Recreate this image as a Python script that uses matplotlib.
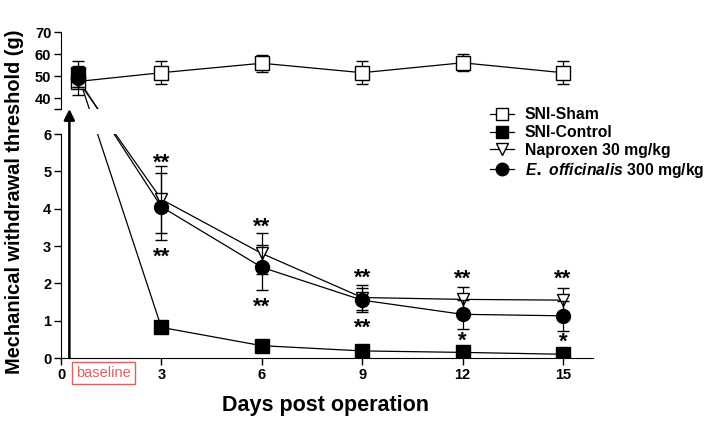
# -*- coding: utf-8 -*-
# Umbral de retirada mecanica, eje partido (40-70 arriba, 0-6 abajo)

import numpy as np
import matplotlib.pyplot as plt
from matplotlib.lines import Line2D

plt.rcParams['font.family'] = ['Liberation Sans', 'DejaVu Sans']
plt.rcParams['font.weight'] = 'bold'
plt.rcParams['mathtext.fontset'] = 'custom'
plt.rcParams['mathtext.it'] = 'Liberation Sans:italic:bold'

# %% Datos

dias = [3, 6, 9, 12, 15]
x_base = 0.5                      # posicion de la linea base

# linea base (eje superior)
sham_base, sham_base_err = 47.5, 3.0
ctrl_base, ctrl_base_err = 51.0, 6.0
napr_base, napr_base_err = 48.0, 6.6
eoff_base, eoff_base_err = 49.0, 4.0

# SNI-Sham (eje superior)
sham = [51.5, 55.8, 51.5, 56.0, 51.5]
sham_err = [5.3, 3.8, 5.3, 3.8, 5.3]

# eje inferior
ctrl = [0.82, 0.33, 0.19, 0.15, 0.10]
ctrl_err = [0.05, 0.04, 0.03, 0.03, 0.03]
napr = [4.25, 2.80, 1.62, 1.57, 1.55]
napr_err = [0.90, 0.55, 0.33, 0.33, 0.33]
eoff = [4.05, 2.43, 1.55, 1.17, 1.13]
eoff_err = [0.90, 0.60, 0.33, 0.39, 0.41]

# asteriscos
ast_dias = [3, 3, 6, 6, 9, 9, 12, 12, 15, 15]
ast_y = [5.22, 2.70, 3.50, 1.37, 2.15, 0.80, 2.10, 0.45, 2.10, 0.42]
ast_txt = ['**', '**', '**', '**', '**', '**', '**', '*', '**', '*']

labels = ['SNI-Sham', 'SNI-Control', 'Naproxen 30 mg/kg',
          r'$\it{E.}$ $\it{officinalis}$ 300 mg/kg']

# %% Figura

W, H = 714, 422
fig = plt.figure(figsize=(W/100, H/100), dpi=100)

x0px, x1px = 61, 593
ax_bot = fig.add_axes([x0px/W, 1-358/H, (x1px-x0px)/W, (358-134)/H])
ax_top = fig.add_axes([x0px/W, 1-109/H, (x1px-x0px)/W, (109-32)/H])

xmax = 15.9
ax_bot.set_xlim(0, xmax)
ax_top.set_xlim(0, xmax)
ax_bot.set_ylim(0, 6)
ax_top.set_ylim(35, 70)

for ax in (ax_bot, ax_top):
    ax.spines['top'].set_visible(False)
    ax.spines['right'].set_visible(False)
    ax.patch.set_alpha(0)
    ax.tick_params(width=1, length=5, labelsize=10.5, pad=2)
ax_top.spines['bottom'].set_visible(False)
ax_top.set_xticks([])
ax_top.set_yticks([35, 40, 50, 60, 70])
ax_top.set_yticklabels(['', '40', '50', '60', '70'])

ax_bot.set_yticks(range(0, 7))
ax_bot.set_xticks([0, 3, 6, 9, 12, 15])
ax_bot.tick_params(axis='x', pad=2)

lw = 0.9
cap = 4.5

# SNI-Sham en eje superior
ax_top.errorbar([x_base] + dias, [sham_base] + sham, yerr=[sham_base_err] + sham_err,
                fmt='s-', color='k', mfc='white', mec='k', ms=10, mew=1,
                lw=lw, elinewidth=lw, capsize=cap, capthick=lw, zorder=3)

estilos = [
    ('s', 'k', ctrl_base, ctrl_base_err, ctrl, ctrl_err, 10, 8),
    ('v', 'white', napr_base, napr_base_err, napr, napr_err, 9, 5),
    ('o', 'k', eoff_base, eoff_base_err, eoff, eoff_err, 10, 6),
]

for i, (mk, fc, yb, eb, yy, ee, m, zb) in enumerate(estilos):
    z = 4 + i
    # punto base (eje superior)
    ax_top.errorbar([x_base], [yb], yerr=[eb], fmt=mk, color='k', mfc=fc, mec='k',
                    ms=m, mew=1, elinewidth=lw, capsize=cap, capthick=lw, zorder=zb)
    # curva en eje inferior
    ax_bot.errorbar(dias, yy, yerr=ee, fmt=mk + '-', color='k', mfc=fc, mec='k',
                    ms=m, mew=1, lw=lw, elinewidth=lw, capsize=cap, capthick=lw,
                    zorder=z)
    # tramo base -> dia 3 que cruza el corte
    pb = ax_bot.transData.inverted().transform(
        ax_top.transData.transform((x_base, yb)))
    pt = ax_top.transData.inverted().transform(
        ax_bot.transData.transform((dias[0], yy[0])))
    ax_bot.plot([pb[0], dias[0]], [pb[1], yy[0]], color='k', lw=lw, zorder=2)
    ax_top.plot([x_base, pt[0]], [yb, pt[1]], color='k', lw=lw, zorder=2)

# asteriscos
for d, y, t in zip(ast_dias, ast_y, ast_txt):
    ax_bot.text(d, y, t, ha='center', va='center', fontsize=16)

# flecha de linea base
ax_bot.annotate('', xy=(0.25, 1-109/H), xycoords=('data', 'figure fraction'),
                xytext=(0.25, 0), textcoords='data',
                arrowprops=dict(arrowstyle='-|>', lw=1.8, color='k',
                                mutation_scale=16, shrinkA=0, shrinkB=0))

# caja 'baseline'
ax_bot.text(1.27, -0.4, 'baseline', ha='center', va='center', color='#e06060',
            fontsize=10.5, fontweight='normal', clip_on=False,
            bbox=dict(boxstyle='square,pad=0.3', fc='white', ec='#e06060', lw=1))

fig.text(15/W, 1-202/H, 'Mechanical withdrawal threshold (g)', rotation=90,
         ha='center', va='center', fontsize=14.4, fontweight='bold')
fig.text(326/W, 1-405/H, 'Days post operation', ha='center', va='center',
         fontsize=15.5, fontweight='bold')

# leyenda
handles = [
    Line2D([], [], marker='s', color='k', mfc='white', mec='k', ms=9, lw=lw),
    Line2D([], [], marker='s', color='k', mfc='k', ms=9, lw=lw),
    Line2D([], [], marker='v', color='k', mfc='white', mec='k', ms=8, lw=lw),
    Line2D([], [], marker='o', color='k', mfc='k', ms=9, lw=lw),
]
fig.legend(handles, labels, loc='upper left', bbox_to_anchor=(484/W, 1-101/H),
           frameon=False, fontsize=11.3, handlelength=1.5, labelspacing=0.18,
           borderaxespad=0, handletextpad=0.7)

plt.savefig('out.png', dpi=100)
